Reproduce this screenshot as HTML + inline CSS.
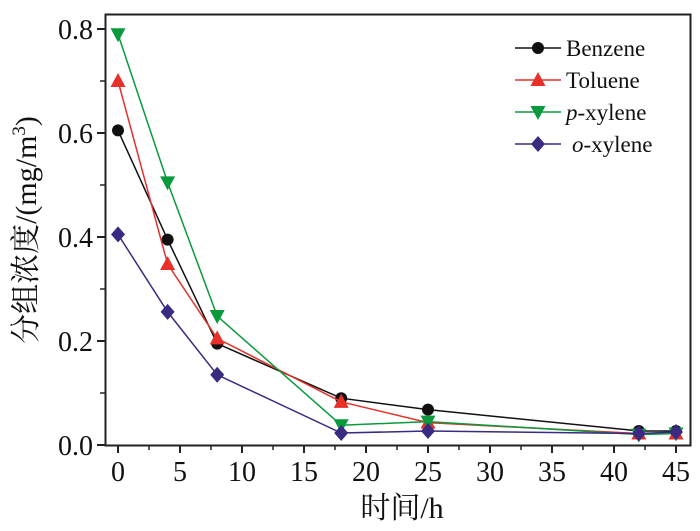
<!DOCTYPE html>
<html><head><meta charset="utf-8"><style>
body{margin:0;background:#fff;}
svg text{font-family:"Liberation Serif","Noto Serif CJK SC",serif;fill:#111;}
</style></head><body>
<svg id="chart" width="700" height="526" xmlns="http://www.w3.org/2000/svg">
<rect x="105.5" y="14.5" width="585" height="431" fill="none" stroke="#222" stroke-width="2"/>
<g id="axes"></g><g id="series"></g><g id="legend"></g>
<text x="402" y="518" font-size="30" text-anchor="middle">时间/h</text>
<text transform="translate(36,230) rotate(-90)" font-size="30" text-anchor="middle">分组浓度/(mg/m<tspan font-size="19" dy="-11">3</tspan><tspan dy="11">)</tspan></text>
</svg>
<script>
const xs=[0,4,8,18,25,42,45];
const benzene=[0.605,0.395,0.195,0.09,0.068,0.027,0.027];
const toluene=[0.70,0.348,0.205,0.083,0.043,0.022,0.022];
const pxylene=[0.79,0.505,0.248,0.038,0.045,0.02,0.022];
const oxylene=[0.405,0.256,0.135,0.023,0.027,0.022,0.025];
const xTicks=[0,5,10,15,20,25,30,35,40,45];
const yTicks=["0.0","0.2","0.4","0.6","0.8"];
const NS="http://www.w3.org/2000/svg";
const X=v=>118+v*(676-118)/45;
const Y=v=>445-v*520;
function mk(tag,attrs,parent){const e=document.createElementNS(NS,tag);for(const k in attrs)e.setAttribute(k,attrs[k]);parent.appendChild(e);return e;}
const ax=document.getElementById('axes');
xTicks.forEach(t=>{
  let l=mk('line',{x1:X(t),x2:X(t),y1:445,y2:453,stroke:'#222','stroke-width':2},ax);
  
  
  let m=mk('line',{x1:X(t+2.5),x2:X(t+2.5),y1:445,y2:450,stroke:'#222','stroke-width':1.5},ax);
  if(t===45)m.remove();
  
  
  let tx=mk('text',{x:X(t),y:481,'font-size':28,'text-anchor':'middle'},ax);tx.textContent=t;
  
  
});
yTicks.forEach(t=>{
  const v=parseFloat(t);
  let l=mk('line',{x1:97,x2:105,y1:Y(v),y2:Y(v),stroke:'#222','stroke-width':2},ax);
  
  
  if(v<0.8){let m=mk('line',{x1:100,x2:105,y1:Y(v+0.1),y2:Y(v+0.1),stroke:'#222','stroke-width':1.5},ax);
  
  }
  let tx=mk('text',{x:93,y:Y(v)+10,'font-size':28,'text-anchor':'end'},ax);tx.textContent=t;
  
  
});
function marker(shape,cx,cy,col,g){
  let e;
  if(shape==='circle')e=mk('circle',{cx,cy,r:6,fill:'#111'},g);
  else if(shape==='up')e=mk('polygon',{points:`${cx},${cy-8} ${cx-7.5},${cy+6} ${cx+7.5},${cy+6}`,fill:col},g);
  else if(shape==='down')e=mk('polygon',{points:`${cx},${cy+8} ${cx-7.5},${cy-6} ${cx+7.5},${cy-6}`,fill:col},g);
  else e=mk('polygon',{points:`${cx},${cy-8} ${cx+7},${cy} ${cx},${cy+8} ${cx-7},${cy}`,fill:col},g);
  return e;
}
const S=[["benzene",benzene,"#111","circle"],["toluene",toluene,"#e8302a","up"],["p-xylene",pxylene,"#0a9a3c","down"],["o-xylene",oxylene,"#3a2a82","diamond"]];
const sg=document.getElementById('series');
S.forEach(([name,d,col,sh])=>{
  let p=mk('polyline',{points:d.map((v,i)=>X(xs[i])+','+Y(v)).join(' '),fill:'none',stroke:col,'stroke-width':1.5},sg);
  
  
  d.forEach((v,i)=>{let m=marker(sh,X(xs[i]),Y(v),col,sg);
    
    });
});
const lg=document.getElementById('legend');
const labels=["Benzene","Toluene","<tspan font-style='italic'>p</tspan>-xylene","<tspan font-style='italic'>o</tspan>-xylene"];
S.forEach(([name,d,col,sh],i)=>{
  const y=48+i*32;
  let l=mk('line',{x1:515,x2:561,y1:y,y2:y,stroke:col,'stroke-width':1.5},lg);
  
  
  let m=marker(sh,538,y,col,lg);
  
  
  let t=mk('text',{x:i===3?572:566,y:y+8,'font-size':23},lg);t.innerHTML=labels[i];
  
  
});
</script>
</body></html>
